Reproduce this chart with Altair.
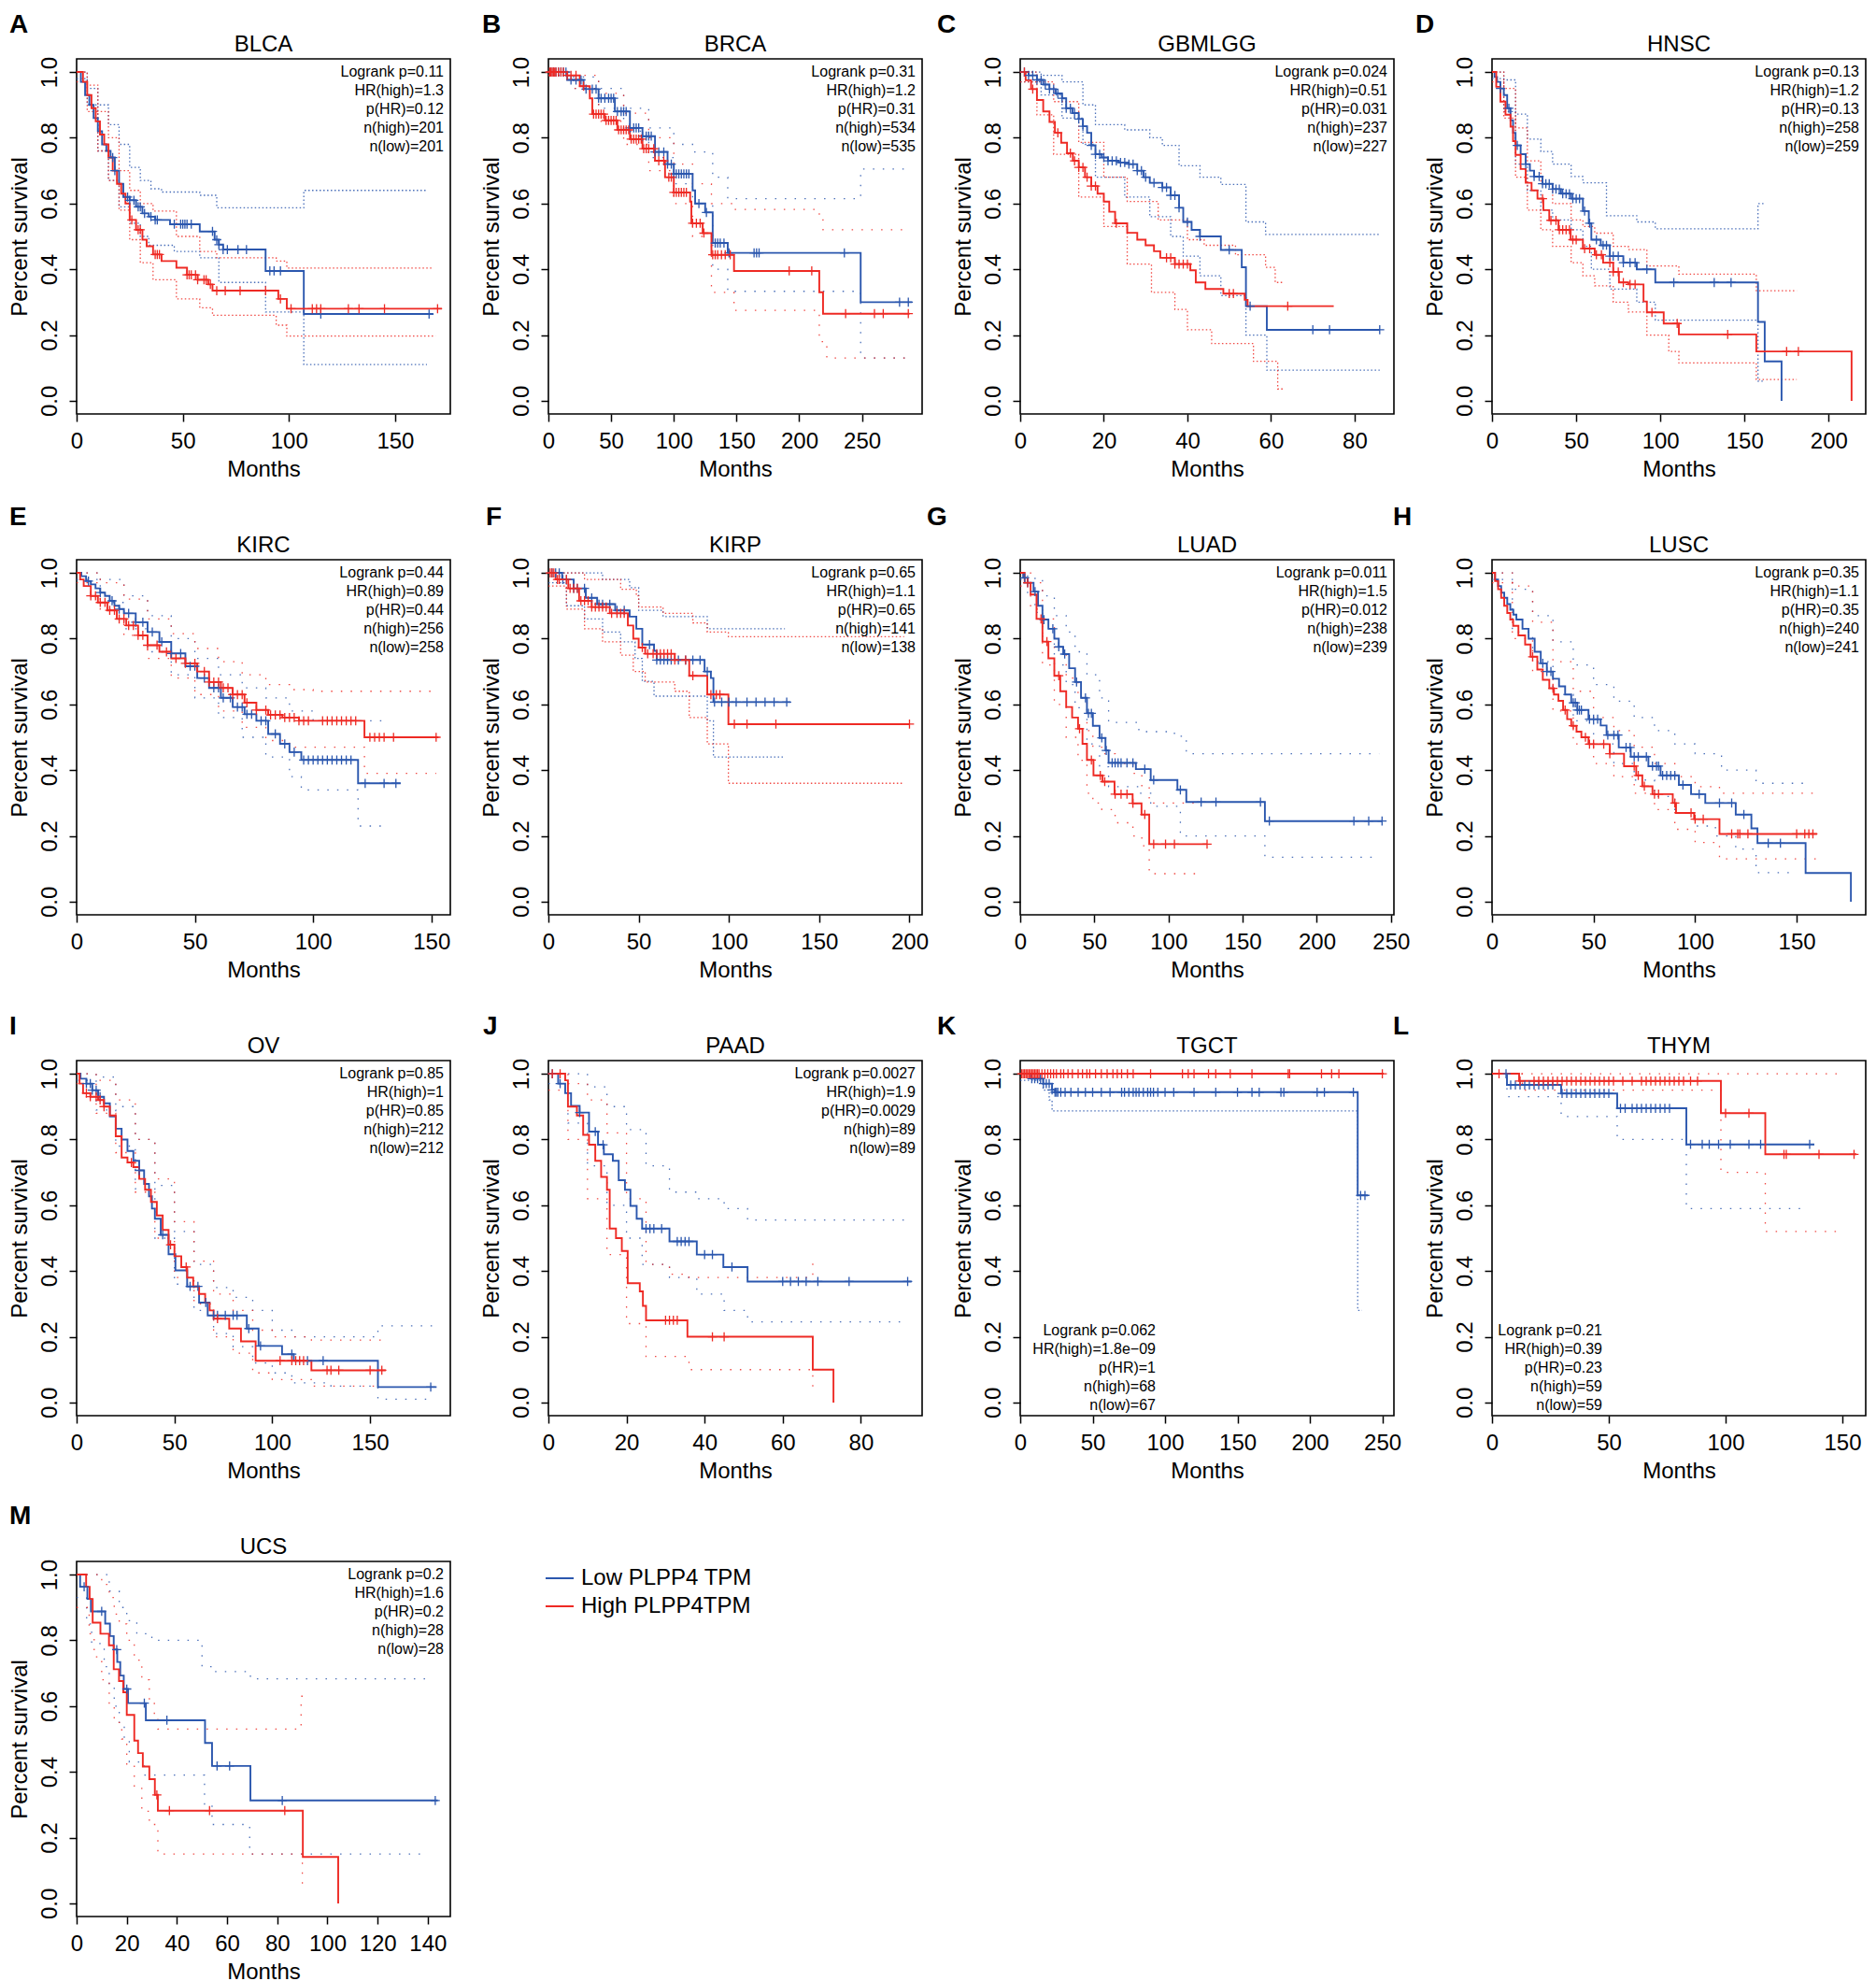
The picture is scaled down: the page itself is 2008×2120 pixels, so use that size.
import altair as alt
import pandas as pd

BLUE = "#2B57AE"
RED = "#EE2A24"
FONT = "Liberation Sans, Arial, Helvetica, sans-serif"
PLUS = "M0,-1V1M-1,0H1"

LEGEND_LABELS = ["Low PLPP4 TPM", "High PLPP4TPM"]

# ---------------- A: BLCA ----------------
A_low = [(0,1.0),(2,0.97),(4,0.93),(6,0.90),(8,0.86),(10,0.82),(12,0.78),(14,0.76),(16,0.74),(18,0.70),(20,0.66),(22,0.62),(25,0.61),(28,0.59),(31,0.57),(34,0.56),(37,0.55),(44,0.537),(58,0.515),(65,0.49),(67,0.475),(69,0.46),(89,0.395),(107,0.264),(168,0.264)]
A_high = [(0,1.0),(3,0.97),(5,0.93),(7,0.89),(9,0.85),(11,0.81),(13,0.78),(15,0.74),(17,0.70),(19,0.66),(21,0.63),(23,0.60),(25,0.55),(28,0.52),(31,0.49),(33,0.47),(36,0.445),(40,0.425),(47,0.405),(52,0.383),(57,0.368),(62,0.354),(64,0.335),(95,0.31),(99,0.28),(172,0.28)]
A_low_up = [(0,1.0),(5,0.95),(10,0.9),(15,0.84),(20,0.78),(25,0.71),(30,0.67),(35,0.645),(40,0.635),(58,0.625),(66,0.587),(107,0.64),(165,0.64)]
A_low_lo = [(0,0.98),(5,0.9),(10,0.76),(15,0.67),(20,0.59),(25,0.54),(30,0.5),(34,0.473),(46,0.454),(58,0.435),(67,0.36),(89,0.27),(107,0.11),(165,0.11)]
A_high_up = [(0,1.0),(5,0.96),(10,0.88),(15,0.80),(20,0.70),(25,0.64),(30,0.60),(36,0.577),(47,0.5),(58,0.454),(66,0.435),(94,0.425),(99,0.404),(168,0.404)]
A_high_lo = [(0,0.97),(5,0.88),(10,0.76),(15,0.67),(20,0.58),(25,0.49),(30,0.42),(36,0.368),(47,0.31),(58,0.283),(64,0.26),(94,0.23),(99,0.197),(169,0.197)]
A_low_cens = [17,18,24,25,27,29,30,32,35,37,38,46,49,50,51,52,54,64,66,67,69,71,76,80,91,93,96,115,166]
A_high_cens = [26,29,30,37,38,39,52,53,54,56,57,60,61,63,66,70,77,89,96,101,111,113,115,128,133,145,170]
A_stats = ["Logrank p=0.11", "HR(high)=1.3", "p(HR)=0.12", "n(high)=201", "n(low)=201"]

# ---------------- B: BRCA ----------------
B_low = [(0,1.0),(15,0.976),(28,0.948),(40,0.92),(53,0.88),(65,0.83),(75,0.805),(85,0.757),(95,0.72),(100,0.69),(115,0.64),(117,0.60),(125,0.573),(131,0.48),(143,0.45),(249,0.30),(290,0.30)]
B_high = [(0,1.0),(15,0.99),(25,0.957),(33,0.92),(35,0.872),(45,0.853),(55,0.824),(65,0.796),(75,0.767),(85,0.73),(93,0.68),(100,0.634),(113,0.606),(114,0.54),(123,0.51),(130,0.444),(148,0.395),(216,0.33),(219,0.265),(288,0.265)]
B_low_up = [(0,1.0),(20,0.985),(40,0.95),(60,0.89),(80,0.83),(100,0.78),(115,0.757),(131,0.68),(143,0.615),(249,0.705),(285,0.705)]
B_low_lo = [(0,0.99),(20,0.95),(40,0.89),(60,0.82),(80,0.74),(100,0.66),(115,0.6),(131,0.4),(143,0.333),(249,0.13),(285,0.13)]
B_high_up = [(0,1.0),(20,0.99),(40,0.935),(60,0.875),(80,0.8),(100,0.72),(115,0.66),(130,0.6),(148,0.582),(216,0.55),(219,0.52),(285,0.52)]
B_high_lo = [(0,0.99),(20,0.95),(40,0.85),(60,0.78),(80,0.7),(100,0.6),(115,0.5),(130,0.33),(148,0.275),(216,0.18),(222,0.13),(285,0.13)]
B_low_cens = [2,4,6,8,10,12,14,18,22,26,30,35,38,40,42,45,48,50,52,55,58,60,62,65,68,70,72,75,78,80,82,85,88,92,95,98,100,102,104,106,108,110,112,120,126,133,135,137,140,144,164,166,168,236,280,287]
B_high_cens = [1,2,3,4,5,6,8,10,12,15,18,22,28,36,38,40,42,44,46,48,50,52,54,56,58,60,62,64,66,68,70,72,74,76,78,80,84,88,92,96,98,100,102,104,106,108,110,115,118,121,124,131,133,135,138,141,145,192,210,237,260,267,287]
B_stats = ["Logrank p=0.31", "HR(high)=1.2", "p(HR)=0.31", "n(high)=534", "n(low)=535"]

# ---------------- C: GBMLGG ----------------
C_low = [(0,1.0),(2,0.99),(4,0.976),(5.5,0.962),(7,0.948),(8.5,0.935),(10,0.92),(11,0.89),(12.5,0.875),(14,0.857),(15,0.835),(16,0.815),(17,0.777),(18,0.75),(19.5,0.74),(21,0.73),(23.5,0.725),(26,0.72),(28,0.70),(29.5,0.68),(31,0.663),(34,0.649),(36,0.625),(38,0.587),(39,0.544),(41,0.52),(43,0.5),(48,0.459),(53,0.406),(54,0.288),(59,0.216),(86,0.216)]
C_high = [(0,1.0),(1.3,0.975),(2.6,0.948),(4,0.915),(5.5,0.88),(7,0.848),(8.3,0.815),(9.8,0.785),(11.2,0.753),(12.6,0.73),(14,0.71),(15.5,0.68),(17,0.653),(18.5,0.63),(20,0.606),(21.3,0.575),(22.7,0.54),(25.6,0.511),(28,0.49),(30,0.473),(32,0.455),(33.5,0.435),(37,0.416),(40.7,0.397),(42,0.36),(44.3,0.34),(48.6,0.326),(53.7,0.307),(54.4,0.288),(75,0.288)]
C_low_up = [(0,1.0),(5,0.99),(10,0.97),(15,0.9),(18,0.84),(25,0.824),(31,0.8),(34,0.777),(38,0.715),(43,0.68),(48,0.658),(54,0.544),(58.7,0.506),(86,0.506)]
C_low_lo = [(0,0.97),(5,0.93),(10,0.86),(15,0.78),(18,0.68),(25,0.62),(31,0.56),(36,0.5),(39,0.44),(43,0.38),(48,0.32),(54,0.2),(59,0.093),(86,0.093)]
C_high_up = [(0,1.0),(4,0.97),(8,0.91),(14,0.786),(20,0.68),(25.6,0.606),(33,0.55),(40,0.49),(44,0.473),(51.5,0.444),(58.7,0.406),(61,0.36),(63,0.36)]
C_high_lo = [(0,0.97),(4,0.87),(8,0.75),(14,0.62),(20,0.53),(25.6,0.416),(31.4,0.33),(37,0.278),(40,0.216),(45.8,0.174),(55.8,0.12),(61.6,0.036),(63,0.036)]
C_low_cens = [1,2,3,4,5,6,7,8,9,10,11,12,13,14,15,17,18,19,20,21,22,23,24,25,26,27,28,29,30,32,34,35,36,37,38,40,43,50,55,70,74,86]
C_high_cens = [1,3,9,12,13,14,15,16,17,18,23,35,36,37,38,39,40,50,51,64]
C_stats = ["Logrank p=0.024", "HR(high)=0.51", "p(HR)=0.031", "n(high)=237", "n(low)=227"]

# ---------------- D: HNSC ----------------
D_low = [(0,1.0),(1.5,0.985),(3,0.97),(5,0.95),(7,0.93),(9,0.89),(11,0.853),(12.5,0.815),(14,0.777),(17,0.75),(20,0.72),(22.5,0.70),(25,0.682),(30,0.66),(36,0.644),(41,0.63),(47,0.615),(54,0.577),(57.5,0.54),(59,0.49),(64.6,0.473),(70,0.44),(78,0.42),(86,0.40),(97,0.36),(158,0.24),(162,0.12),(172,0.0)]
D_high = [(0,1.0),(2.5,0.955),(5,0.91),(8,0.87),(11,0.834),(12.5,0.79),(14,0.748),(17,0.705),(20,0.663),(23.5,0.64),(27,0.615),(30.5,0.58),(34,0.549),(39.5,0.52),(46.7,0.49),(54,0.463),(61,0.444),(66,0.42),(72,0.392),(75.4,0.36),(81,0.354),(90,0.302),(92,0.269),(102,0.235),(111,0.202),(157,0.15),(213.6,0.0)]
D_low_up = [(0,1.0),(7,0.976),(14,0.872),(21,0.796),(29,0.758),(36,0.72),(47,0.682),(54,0.663),(68,0.563),(86,0.544),(97,0.523),(158,0.6),(162,0.6)]
D_low_lo = [(0,0.98),(7,0.88),(14,0.72),(21,0.64),(29,0.58),(36,0.55),(47,0.52),(54,0.47),(59,0.40),(70,0.34),(86,0.30),(97,0.245),(158,0.06),(162,0.06)]
D_high_up = [(0,1.0),(7,0.95),(14,0.83),(21,0.73),(29,0.66),(36,0.6),(47,0.55),(54,0.53),(61,0.51),(72,0.47),(81,0.46),(92,0.41),(111,0.385),(157,0.335),(181,0.335)]
D_high_lo = [(0,0.97),(7,0.86),(14,0.68),(21,0.58),(29,0.52),(36,0.47),(47,0.42),(54,0.38),(61,0.35),(72,0.3),(81,0.27),(92,0.2),(105,0.15),(111,0.115),(157,0.065),(181,0.065)]
D_low_cens = [5,10,15,20,25,28,30,32,34,36,38,40,42,44,46,48,50,52,55,58,62,66,68,70,72,75,78,82,85,92,108,132,142]
D_high_cens = [30,35,38,40,42,44,46,48,50,55,58,62,65,70,72,75,78,82,85,95,110,140,175,182]
D_stats = ["Logrank p=0.13", "HR(high)=1.2", "p(HR)=0.13", "n(high)=258", "n(low)=259"]

# ---------------- E: KIRC ----------------
E_low = [(0,1.0),(2,0.99),(4,0.975),(6,0.965),(8,0.953),(10,0.94),(12,0.93),(14,0.915),(16,0.9),(18,0.89),(20,0.877),(25,0.85),(30,0.82),(35,0.79),(40,0.755),(46,0.716),(51,0.68),(56,0.65),(61,0.62),(66,0.592),(71,0.57),(76,0.55),(81,0.51),(86,0.48),(90,0.455),(95,0.431),(119,0.36),(137,0.36)]
E_high = [(0,1.0),(1.5,0.98),(3,0.96),(6,0.93),(9,0.91),(13,0.886),(17,0.86),(21,0.84),(26,0.81),(30,0.78),(35,0.76),(40,0.74),(46,0.725),(51,0.70),(56,0.668),(61,0.65),(66,0.63),(71,0.605),(76,0.583),(81,0.568),(87,0.56),(94,0.55),(121.7,0.5),(153,0.5)]
E_low_up = [(0,1.0),(10,0.98),(20,0.93),(30,0.87),(40,0.8),(50,0.74),(60,0.69),(70,0.65),(80,0.62),(90,0.58),(100,0.55),(132,0.55)]
E_low_lo = [(0,0.98),(10,0.91),(20,0.83),(30,0.76),(40,0.69),(50,0.62),(60,0.56),(70,0.5),(80,0.44),(90,0.38),(95,0.34),(119,0.23),(132,0.23)]
E_high_up = [(0,1.0),(10,0.97),(20,0.92),(30,0.86),(40,0.815),(50,0.77),(60,0.73),(70,0.69),(80,0.66),(90,0.645),(100,0.64),(152,0.64)]
E_high_lo = [(0,0.97),(10,0.89),(20,0.81),(30,0.74),(40,0.68),(50,0.63),(60,0.58),(70,0.53),(80,0.49),(90,0.47),(121.7,0.39),(152,0.39)]
E_low_cens = [5,10,15,18,22,25,28,32,36,40,44,48,50,54,58,60,62,65,68,70,72,74,78,80,84,88,92,96,98,100,102,104,106,108,110,112,114,116,122,130,135]
E_high_cens = [6,8,10,12,14,16,18,20,22,24,26,28,30,34,38,42,46,50,54,56,58,60,62,64,66,68,70,72,76,80,82,84,86,88,90,92,94,96,98,104,106,108,110,112,114,116,118,124,126,128,130,134,152]
E_stats = ["Logrank p=0.44", "HR(high)=0.89", "p(HR)=0.44", "n(high)=256", "n(low)=258"]

# ---------------- F: KIRP ----------------
F_low = [(0,1.0),(7.6,0.98),(14,0.953),(20.7,0.924),(27,0.905),(37,0.886),(45,0.867),(48.7,0.83),(52,0.782),(58.5,0.763),(60,0.735),(86.5,0.70),(90,0.68),(91.4,0.607),(134,0.607)]
F_high = [(0,1.0),(4,0.98),(11,0.953),(17,0.915),(24,0.896),(34,0.877),(44,0.84),(47,0.80),(50,0.773),(53.6,0.754),(70,0.735),(78,0.687),(88,0.63),(99.7,0.54),(200,0.54)]
F_low_up = [(0,1.0),(30,0.98),(45,0.955),(50,0.886),(63.5,0.867),(88,0.83),(131,0.83)]
F_low_lo = [(0,0.97),(10,0.9),(20,0.86),(30,0.82),(40,0.79),(48,0.74),(52,0.67),(58.5,0.625),(88,0.55),(91.4,0.44),(131,0.44)]
F_high_up = [(0,1.0),(20,0.98),(40,0.95),(48.7,0.93),(50,0.896),(63.5,0.877),(80,0.848),(88,0.82),(99.7,0.806),(197,0.806)]
F_high_lo = [(0,0.96),(10,0.89),(20,0.83),(30,0.79),(40,0.75),(47,0.7),(53.6,0.668),(70,0.64),(78,0.56),(88,0.48),(99.7,0.36),(197,0.36)]
F_low_cens = [2,4,6,8,10,14,16,20,24,28,30,34,38,42,56,60,62,64,66,68,72,76,80,84,88,92,96,100,104,110,115,120,125,132]
F_high_cens = [1,2,3,5,6,10,12,14,16,18,20,22,24,26,28,30,32,35,38,40,42,52,55,58,60,62,64,66,68,70,76,80,90,93,95,103,110,126,200]
F_stats = ["Logrank p=0.65", "HR(high)=1.1", "p(HR)=0.65", "n(high)=141", "n(low)=138"]

# ---------------- G: LUAD ----------------
G_low = [(0,1.0),(2,0.985),(5,0.97),(9,0.943),(12,0.9),(15,0.858),(19,0.83),(23,0.80),(26,0.775),(29,0.753),(33,0.71),(37,0.668),(41,0.62),(45,0.573),(49,0.535),(53.5,0.498),(57.5,0.46),(59.6,0.422),(78,0.403),(88,0.37),(106,0.34),(112,0.303),(165,0.245),(244,0.245)]
G_high = [(0,1.0),(3,0.97),(7,0.934),(11,0.86),(15,0.791),(19,0.74),(23,0.687),(27,0.64),(31,0.592),(35,0.56),(39,0.526),(42,0.48),(45,0.431),(49.4,0.384),(55.5,0.365),(63.6,0.327),(75.8,0.299),(81.8,0.265),(87,0.175),(126,0.175)]
G_low_up = [(0,1.0),(5,0.99),(10,0.98),(15,0.93),(23,0.87),(31,0.82),(37,0.76),(45,0.69),(53.5,0.62),(59.6,0.545),(80,0.517),(104,0.503),(112,0.45),(242,0.45)]
G_low_lo = [(0,0.98),(5,0.94),(10,0.88),(15,0.79),(23,0.72),(31,0.66),(37,0.59),(45,0.48),(53.5,0.41),(59.6,0.35),(80,0.33),(88,0.29),(108,0.2),(165,0.135),(242,0.135)]
G_high_up = [(0,1.0),(7,0.97),(15,0.86),(23,0.77),(31,0.68),(39,0.62),(45,0.52),(49,0.47),(55,0.45),(64,0.42),(76,0.39),(82,0.35),(87,0.3),(118,0.3)]
G_high_lo = [(0,0.96),(7,0.89),(15,0.72),(23,0.6),(31,0.5),(39,0.43),(45,0.33),(49,0.3),(55,0.28),(64,0.24),(76,0.2),(82,0.17),(87,0.085),(118,0.085)]
G_low_cens = [3,5,10,16,22,26,30,38,44,46,48,55,58,62,64,66,68,72,76,84,90,108,122,132,162,168,225,235,244]
G_high_cens = [5,14,18,26,40,48,54,57,64,68,72,76,84,90,98,104,126]
G_stats = ["Logrank p=0.011", "HR(high)=1.5", "p(HR)=0.012", "n(high)=238", "n(low)=239"]

# ---------------- H: LUSC ----------------
H_low = [(0,1.0),(1.5,0.98),(3,0.96),(4.5,0.94),(6,0.924),(7.5,0.905),(9,0.888),(10.5,0.873),(12,0.858),(15,0.83),(18,0.80),(21,0.76),(24,0.725),(27,0.70),(30,0.678),(33,0.655),(36,0.63),(39,0.605),(42,0.583),(47.5,0.555),(53.5,0.536),(56.4,0.507),(62.4,0.469),(68.3,0.441),(77,0.412),(83,0.384),(92,0.355),(98,0.327),(105,0.30),(120,0.265),(127.7,0.223),(130.7,0.178),(154.4,0.087),(176.7,0.0)]
H_high = [(0,1.0),(1.5,0.975),(3,0.95),(4.5,0.924),(6,0.90),(7.5,0.878),(9,0.858),(10.4,0.839),(13,0.81),(16.3,0.782),(19,0.745),(22.3,0.706),(25,0.675),(28.2,0.649),(30.5,0.63),(32.7,0.611),(35,0.583),(37,0.555),(39,0.535),(41.6,0.517),(44,0.5),(47.5,0.479),(58,0.45),(65,0.412),(71,0.384),(74,0.351),(79,0.327),(89,0.30),(90.6,0.27),(99.5,0.251),(112,0.206),(160,0.206)]
H_low_up = [(0,1.0),(10,0.95),(20,0.87),(30,0.79),(40,0.72),(50,0.66),(60,0.61),(70,0.56),(80,0.52),(90,0.48),(100,0.45),(113,0.4),(130,0.36),(154,0.36)]
H_low_lo = [(0,0.98),(10,0.82),(20,0.73),(30,0.63),(40,0.55),(50,0.48),(60,0.42),(70,0.37),(80,0.32),(90,0.27),(100,0.23),(110,0.2),(120,0.16),(130,0.088),(150,0.088)]
H_high_up = [(0,1.0),(10,0.96),(20,0.85),(30,0.73),(40,0.64),(50,0.56),(60,0.52),(70,0.47),(80,0.42),(90,0.38),(100,0.35),(112,0.33),(160,0.33)]
H_high_lo = [(0,0.97),(10,0.8),(20,0.7),(30,0.58),(40,0.48),(50,0.42),(60,0.38),(70,0.33),(80,0.28),(90,0.22),(100,0.18),(112,0.13),(160,0.13)]
H_low_cens = [25,27,29,40,41,42,43,44,48,50,52,57,60,62,66,68,70,72,76,79,81,82,84,86,88,90,94,102,112,118,124,136,142]
H_high_cens = [20,30,36,40,46,48,50,55,58,70,72,75,80,82,90,98,100,104,118,121,122,126,150,154,156,158]
H_stats = ["Logrank p=0.35", "HR(high)=1.1", "p(HR)=0.35", "n(high)=240", "n(low)=241"]

# ---------------- I: OV ----------------
I_low = [(0,1.0),(2,0.985),(5,0.97),(8,0.95),(11,0.93),(14,0.91),(17,0.87),(20,0.833),(23,0.8),(26,0.765),(29,0.735),(32,0.706),(34.5,0.665),(37,0.627),(38.5,0.59),(40,0.559),(43,0.51),(47,0.451),(50.5,0.402),(56.5,0.353),(62.6,0.304),(67,0.265),(87,0.225),(93,0.172),(105,0.147),(111,0.127),(154,0.047),(184,0.047)]
I_high = [(0,1.0),(1.5,0.97),(3.3,0.941),(7,0.93),(11,0.92),(14,0.9),(17,0.873),(20,0.81),(23,0.745),(26,0.73),(29,0.716),(32,0.68),(35,0.647),(38,0.61),(41,0.569),(44,0.525),(47,0.48),(50,0.445),(53.5,0.412),(56.5,0.38),(59.6,0.353),(62.6,0.33),(65.7,0.304),(68,0.28),(70,0.255),(78,0.225),(84,0.186),(91.5,0.127),(120,0.098),(158,0.098)]
I_low_up = [(0,1.0),(10,0.99),(20,0.9),(30,0.8),(40,0.66),(50,0.52),(60,0.42),(70,0.35),(80,0.32),(90,0.28),(100,0.22),(110,0.2),(154,0.233),(182,0.233)]
I_low_lo = [(0,0.98),(10,0.89),(20,0.78),(30,0.65),(40,0.5),(50,0.36),(60,0.28),(70,0.21),(80,0.17),(90,0.12),(100,0.09),(110,0.06),(130,0.05),(154,0.01),(182,0.01)]
I_high_up = [(0,1.0),(10,0.98),(20,0.92),(30,0.8),(40,0.68),(50,0.55),(60,0.43),(70,0.33),(80,0.28),(90,0.22),(100,0.2),(120,0.19),(156,0.19)]
I_high_lo = [(0,0.97),(10,0.88),(20,0.76),(30,0.64),(40,0.5),(50,0.38),(60,0.3),(70,0.2),(80,0.15),(90,0.09),(100,0.07),(120,0.05),(156,0.05)]
I_low_cens = [5,7,8,10,12,32,44,58,62,66,70,72,76,80,82,88,94,110,118,126,181]
I_high_cens = [5,7,10,12,14,28,48,56,72,104,110,112,114,116,128,130,134,150,156]
I_stats = ["Logrank p=0.85", "HR(high)=1", "p(HR)=0.85", "n(high)=212", "n(low)=212"]

# ---------------- J: PAAD ----------------
J_low = [(0,1.0),(2.5,0.97),(4.3,0.941),(5.8,0.902),(8,0.882),(10.4,0.824),(12.7,0.784),(14.2,0.755),(16.5,0.735),(18,0.676),(19.6,0.647),(21,0.598),(22.6,0.559),(24,0.529),(31,0.49),(38,0.45),(44.8,0.412),(51,0.368),(93,0.368)]
J_high = [(0,1.0),(4.3,0.98),(5,0.9),(7.3,0.873),(8.9,0.814),(10.4,0.784),(12,0.735),(13.5,0.686),(15,0.647),(15.7,0.529),(17.3,0.5),(18.8,0.461),(20.3,0.363),(23.4,0.338),(24.2,0.294),(25,0.25),(35.6,0.2),(67.7,0.1),(73,0.0)]
J_low_up = [(0,1.0),(5,1.0),(10,0.96),(15,0.9),(20,0.83),(25,0.72),(31,0.64),(38,0.62),(45,0.59),(51,0.555),(92,0.555)]
J_low_lo = [(0,0.97),(5,0.85),(10,0.72),(15,0.6),(20,0.5),(24,0.42),(31,0.38),(38,0.33),(45,0.28),(51,0.245),(92,0.245)]
J_high_up = [(0,1.0),(5,0.97),(10,0.92),(15,0.82),(20,0.62),(25,0.42),(31,0.39),(36,0.38),(67.7,0.43),(68,0.43)]
J_high_lo = [(0,0.95),(5,0.8),(10,0.62),(15,0.45),(20,0.24),(25,0.14),(36,0.1),(67.7,0.04),(68,0.04)]
J_low_cens = [1,3,8,12,14,25,26,27,29,33,34,35,36,40,42,47,60,62,64,66,69,77,92]
J_high_cens = [1,3,30,31,32,33,42,45]
J_stats = ["Logrank p=0.0027", "HR(high)=1.9", "p(HR)=0.0029", "n(high)=89", "n(low)=89"]

# ---------------- K: TGCT ----------------
K_low = [(0,1.0),(7.5,0.985),(15.8,0.97),(22,0.951),(24,0.944),(233,0.63),(240,0.63)]
K_high = [(0,1.0),(251,1.0)]
K_low_up = []
K_low_lo = [(0,0.98),(15.8,0.95),(20,0.92),(22,0.887),(233,0.28),(236,0.28)]
K_high_up = []
K_high_lo = []
K_low_cens = [8,10,12,14,16,18,20,22,24,25,26,28,31,35,40,45,50,56,62,70,72,75,78,80,82,85,88,90,92,95,100,106,120,135,150,160,165,180,182,205,210,230,235,238]
K_high_cens = [1,2,3,4,5,6,7,8,9,10,11,12,13,15,17,19,21,23,25,28,30,33,36,40,43,46,48,52,56,60,64,67,70,74,78,90,112,116,120,130,135,145,160,185,186,208,215,220,250]
K_stats = ["Logrank p=0.062", "HR(high)=1.8e\u221209", "p(HR)=1", "n(high)=68", "n(low)=67"]

# ---------------- L: THYM ----------------
L_low = [(0,1.0),(6.4,0.966),(29.6,0.94),(53.6,0.895),(83.2,0.785),(138,0.785)]
L_high = [(0,1.0),(11.6,0.978),(98,0.88),(117,0.755),(156,0.755)]
L_low_up = []
L_low_lo = [(0,1.0),(6.4,0.93),(29.6,0.87),(53.6,0.8),(83.2,0.59),(135,0.59)]
L_high_up = [(0,1.0),(148,1.0)]
L_high_lo = [(0,1.0),(13,0.95),(98,0.7),(117,0.52),(148,0.52)]
L_low_cens = [6,8,10,12,14,16,18,20,22,24,26,30,32,34,36,38,40,42,44,46,48,50,55,57,60,62,64,66,68,70,72,74,76,85,90,93,97,102,110,115,136]
L_high_cens = [3,12,18,20,22,24,26,28,30,32,34,36,38,40,42,44,46,48,50,52,56,60,64,66,68,70,72,74,76,78,80,82,85,88,100,110,125,126,140,155]
L_stats = ["Logrank p=0.21", "HR(high)=0.39", "p(HR)=0.23", "n(high)=59", "n(low)=59"]

# ---------------- M: UCS ----------------
M_low = [(0,1.0),(1.4,0.963),(4.3,0.926),(5.7,0.888),(11.4,0.851),(13.3,0.813),(14.8,0.772),(16.2,0.734),(17.4,0.693),(18.8,0.652),(20.5,0.609),(27.6,0.557),(51.2,0.488),(54,0.418),(69.3,0.313),(144,0.313)]
M_high = [(0,1.0),(3.8,0.963),(5.2,0.926),(6.4,0.854),(9.5,0.82),(12.9,0.785),(14.8,0.712),(16.9,0.676),(18.6,0.642),(20,0.573),(23,0.495),(24.5,0.457),(26.4,0.416),(29,0.378),(31.2,0.33),(32.4,0.282),(90.2,0.141),(104.3,0.0)]
M_low_up = [(0,1.0),(13,0.95),(17,0.9),(20,0.86),(24,0.82),(30,0.8),(50,0.72),(55,0.705),(69.3,0.683),(140,0.683)]
M_low_lo = [(0,0.93),(4,0.85),(6,0.79),(11,0.72),(13,0.66),(15,0.6),(17,0.55),(19,0.5),(21,0.43),(27,0.39),(51,0.3),(54,0.24),(69,0.15),(140,0.15)]
M_high_up = [(0,1.0),(10,0.97),(13,0.93),(15,0.88),(17,0.85),(20,0.8),(23,0.74),(26,0.68),(29,0.62),(31,0.57),(32.4,0.53),(89.5,0.63),(90.2,0.63)]
M_high_lo = [(0,0.9),(5,0.82),(7,0.75),(10,0.68),(13,0.6),(15,0.55),(18,0.5),(20,0.42),(23,0.35),(26,0.28),(29,0.24),(32.4,0.15),(90,0.04),(90.5,0.04)]
M_low_cens = [3,10,16,20,27,36,56,61,82,143]
M_high_cens = [32,37,53,83]
M_stats = ["Logrank p=0.2", "HR(high)=1.6", "p(HR)=0.2", "n(high)=28", "n(low)=28"]

Y_TICKS = [0.0, 0.2, 0.4, 0.6, 0.8, 1.0]

DENSE = [1.5, 2.5]
SPARSE = [1.5, 9]


def step_value(pairs, t):
    v = pairs[0][1]
    for pt, ps in pairs:
        if pt <= t:
            v = ps
        else:
            break
    return v


def make_panel(letter, title, low, high, low_up, low_lo, high_up, high_lo,
               low_cens, high_cens, stats, xmax, xticks, dash,
               letter_pos, stats_pos, legend=False):
    rows = []
    for name, grp, pts, kind in [
        ("low", "low", low, "main"), ("high", "high", high, "main"),
        ("low_up", "low", low_up, "ci"), ("low_lo", "low", low_lo, "ci"),
        ("high_up", "high", high_up, "ci"), ("high_lo", "high", high_lo, "ci"),
    ]:
        for t, s in pts:
            rows.append({"t": t, "s": s, "series": name, "grp": grp, "kind": kind})
    df = pd.DataFrame(rows)

    cens = [{"t": t, "s": step_value(low, t), "grp": "low"} for t in low_cens] + \
           [{"t": t, "s": step_value(high, t), "grp": "high"} for t in high_cens]
    cdf = pd.DataFrame(cens)

    x = alt.X("t:Q", scale=alt.Scale(domain=[0, xmax], nice=False, zero=False),
              axis=alt.Axis(values=xticks, title="Months", labelFontSize=24, titleFontSize=24,
                            titleFontWeight="normal", labelFont=FONT, titleFont=FONT,
                            labelColor="black", titleColor="black", tickColor="black",
                            tickWidth=1.5, tickSize=8, domain=False, grid=False,
                            labelPadding=9, titlePadding=6, labelFlush=False, labelOverlap=False))
    y = alt.Y("s:Q", scale=alt.Scale(domain=[-0.04, 1.04], nice=False, zero=False),
              axis=alt.Axis(values=Y_TICKS, format=".1f", title="Percent survival",
                            labelFontSize=24, titleFontSize=24, titleFontWeight="normal",
                            labelFont=FONT, titleFont=FONT, labelColor="black",
                            titleColor="black", tickColor="black", tickWidth=1.5, tickSize=8,
                            domain=False, grid=False, labelAngle=270, labelAlign="center",
                            labelBaseline="alphabetic", labelPadding=14, titlePadding=8,
                            labelFlush=False, labelOverlap=False))
    color = alt.Color("grp:N", scale=alt.Scale(domain=["low", "high"], range=[BLUE, RED]), legend=None)

    base = alt.Chart(df)
    ci = base.transform_filter(alt.datum.kind == "ci").mark_line(
        interpolate="step-after", strokeDash=dash, strokeWidth=1.3, opacity=0.85
    ).encode(x=x, y=y, color=color, detail="series:N")
    main = base.transform_filter(alt.datum.kind == "main").mark_line(
        interpolate="step-after", strokeWidth=1.9
    ).encode(x=x, y=y, color=color, detail="series:N")
    pts = alt.Chart(cdf).mark_point(
        shape=PLUS, filled=False, size=95, strokeWidth=1.3, opacity=1
    ).encode(x=x, y=y, color=color)

    one = pd.DataFrame({"k": [0]})
    txt = alt.Chart(one).mark_text(
        text=stats, align="right", baseline="alphabetic", fontSize=16, lineHeight=20,
        font=FONT, color="black"
    ).encode(x=alt.value(stats_pos[0]), y=alt.value(stats_pos[1]))
    lab = alt.Chart(one).mark_text(
        text=letter, align="left", baseline="alphabetic", fontSize=28, fontWeight="bold",
        font=FONT, color="black"
    ).encode(x=alt.value(letter_pos[0]), y=alt.value(letter_pos[1]))
    ttl = alt.Chart(one).mark_text(
        text=title, align="center", baseline="alphabetic", fontSize=24,
        font=FONT, color="black"
    ).encode(x=alt.value(200), y=alt.value(-8))

    layers = [ci, main, pts, txt, lab, ttl]
    if legend:
        for i, (lbl, col) in enumerate(zip(LEGEND_LABELS, [BLUE, RED])):
            yy = 18 + 30 * i
            layers.append(alt.Chart(one).mark_rule(color=col, strokeWidth=2).encode(
                x=alt.value(502), x2=alt.value(532), y=alt.value(yy)))
            layers.append(alt.Chart(one).mark_text(
                text=lbl, align="left", baseline="middle", fontSize=24, font=FONT, color="black"
            ).encode(x=alt.value(540), y=alt.value(yy)))

    return alt.layer(*layers).properties(width=400, height=380)


TR = (393, 19)
pA = make_panel("A", "BLCA", A_low, A_high, A_low_up, A_low_lo, A_high_up, A_high_lo,
                A_low_cens, A_high_cens, A_stats, 176, [0, 50, 100, 150], DENSE, (-72, -28), TR)
pB = make_panel("B", "BRCA", B_low, B_high, B_low_up, B_low_lo, B_high_up, B_high_lo,
                B_low_cens, B_high_cens, B_stats, 298, [0, 50, 100, 150, 200, 250], SPARSE, (-71, -28), TR)
pC = make_panel("C", "GBMLGG", C_low, C_high, C_low_up, C_low_lo, C_high_up, C_high_lo,
                C_low_cens, C_high_cens, C_stats, 89.4, [0, 20, 40, 60, 80], DENSE, (-89, -28), TR)
pD = make_panel("D", "HNSC", D_low, D_high, D_low_up, D_low_lo, D_high_up, D_high_lo,
                D_low_cens, D_high_cens, D_stats, 222, [0, 50, 100, 150, 200], DENSE, (-82, -28), TR)
pE = make_panel("E", "KIRC", E_low, E_high, E_low_up, E_low_lo, E_high_up, E_high_lo,
                E_low_cens, E_high_cens, E_stats, 158, [0, 50, 100, 150], SPARSE, (-72, -37), TR)
pF = make_panel("F", "KIRP", F_low, F_high, F_low_up, F_low_lo, F_high_up, F_high_lo,
                F_low_cens, F_high_cens, F_stats, 207, [0, 50, 100, 150, 200], DENSE, (-67, -37), TR)
pG = make_panel("G", "LUAD", G_low, G_high, G_low_up, G_low_lo, G_high_up, G_high_lo,
                G_low_cens, G_high_cens, G_stats, 252, [0, 50, 100, 150, 200, 250], SPARSE, (-100, -37), TR)
pH = make_panel("H", "LUSC", H_low, H_high, H_low_up, H_low_lo, H_high_up, H_high_lo,
                H_low_cens, H_high_cens, H_stats, 184, [0, 50, 100, 150], SPARSE, (-106, -37), TR)
pI = make_panel("I", "OV", I_low, I_high, I_low_up, I_low_lo, I_high_up, I_high_lo,
                I_low_cens, I_high_cens, I_stats, 191, [0, 50, 100, 150], SPARSE, (-72, -28), TR)
pJ = make_panel("J", "PAAD", J_low, J_high, J_low_up, J_low_lo, J_high_up, J_high_lo,
                J_low_cens, J_high_cens, J_stats, 95.7, [0, 20, 40, 60, 80], SPARSE, (-70, -28), TR)
pK = make_panel("K", "TGCT", K_low, K_high, K_low_up, K_low_lo, K_high_up, K_high_lo,
                K_low_cens, K_high_cens, K_stats, 258, [0, 50, 100, 150, 200, 250], DENSE, (-89, -28), (145, 294))
pL = make_panel("L", "THYM", L_low, L_high, L_low_up, L_low_lo, L_high_up, L_high_lo,
                L_low_cens, L_high_cens, L_stats, 160, [0, 50, 100, 150], SPARSE, (-106, -28), (118, 294))
pM = make_panel("M", "UCS", M_low, M_high, M_low_up, M_low_lo, M_high_up, M_high_lo,
                M_low_cens, M_high_cens, M_stats, 149, [0, 20, 40, 60, 80, 100, 120, 140], SPARSE,
                (-72, -40), TR, legend=True)

panels = [pA, pB, pC, pD, pE, pF, pG, pH, pI, pJ, pK, pL, pM]

chart = alt.concat(
    *panels, columns=4, spacing={"row": 156, "column": 105}, bounds="flush"
).resolve_scale(x="independent", y="independent").properties(
    padding={"top": 4, "left": 0, "right": 0, "bottom": 0}, background="white"
).configure_view(stroke="black", strokeWidth=1.6)

chart.save("out.html", embed_options={"renderer": "svg", "actions": False})
